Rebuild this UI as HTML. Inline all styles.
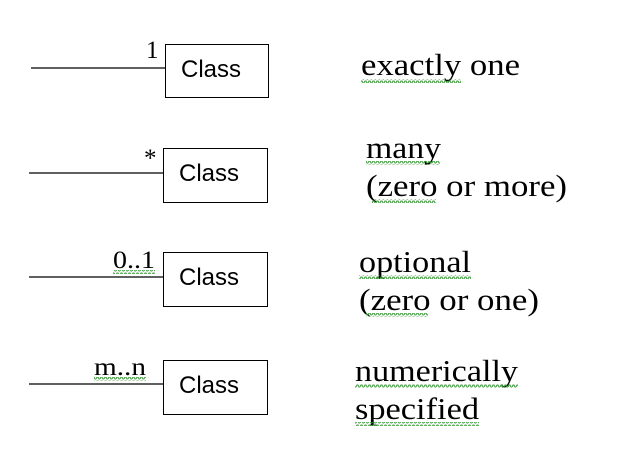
<!DOCTYPE html>
<html><head><meta charset="utf-8"><style>
html,body{margin:0;padding:0;background:#fff;width:621px;height:459px;overflow:hidden}
svg{display:block}
.cls{font-family:"Liberation Sans",sans-serif;font-size:24px;fill:#000}
.lbl{font-family:"Liberation Serif",serif;font-size:31px;fill:#000}
.m{font-family:"Liberation Serif",serif;font-size:25px;fill:#000}
.w{fill:none;stroke:#3a9a3a;stroke-width:1}
</style></head><body>
<svg width="621" height="459">
<defs><pattern id="wv" width="4" height="4" patternUnits="userSpaceOnUse"><path d="M0 3 L1 1 L2 1 L3 3 L4 3" class="w"/></pattern></defs>
<g>
<line x1="31" y1="68" x2="165" y2="68" stroke="#000" stroke-width="1.2"/>
<text x="146" y="58" class="m">1</text>
<rect x="165.5" y="44.5" width="103" height="53" fill="none" stroke="#000"/>
<text x="181" y="77" class="cls" textLength="60" lengthAdjust="spacingAndGlyphs">Class</text>
<text x="361" y="75" class="lbl" textLength="159" lengthAdjust="spacingAndGlyphs">exactly one</text>
<rect x="361" y="79" width="100" height="4" fill="url(#wv)"/>
</g>
<g>
<line x1="29" y1="173" x2="163" y2="173" stroke="#000" stroke-width="1.2"/>
<text x="144" y="166" class="m">*</text>
<rect x="163.5" y="148.5" width="104" height="54" fill="none" stroke="#000"/>
<text x="179" y="181" class="cls" textLength="60" lengthAdjust="spacingAndGlyphs">Class</text>
<text x="366" y="158" class="lbl" textLength="75" lengthAdjust="spacingAndGlyphs">many</text>
<rect x="366" y="161" width="74" height="4" fill="url(#wv)"/>
<text x="366" y="196" class="lbl" textLength="201" lengthAdjust="spacingAndGlyphs">(zero or more)</text>
<rect x="372" y="199" width="64" height="4" fill="url(#wv)"/>
</g>
<g>
<line x1="29" y1="277" x2="163" y2="277" stroke="#000" stroke-width="1.2"/>
<text x="113" y="268" class="m" textLength="42" lengthAdjust="spacingAndGlyphs">0..1</text>
<rect x="113" y="270" width="42" height="4" fill="url(#wv)"/>
<rect x="163.5" y="252.5" width="104" height="54" fill="none" stroke="#000"/>
<text x="179" y="285" class="cls" textLength="60" lengthAdjust="spacingAndGlyphs">Class</text>
<text x="359" y="272" class="lbl" textLength="112" lengthAdjust="spacingAndGlyphs">optional</text>
<rect x="359" y="275" width="112" height="4" fill="url(#wv)"/>
<text x="359" y="310" class="lbl" textLength="180" lengthAdjust="spacingAndGlyphs">(zero or one)</text>
<rect x="366" y="313" width="62" height="4" fill="url(#wv)"/>
</g>
<g>
<line x1="29" y1="384" x2="163" y2="384" stroke="#000" stroke-width="1.2"/>
<text x="94" y="375" class="m" textLength="52" lengthAdjust="spacingAndGlyphs">m..n</text>
<rect x="94" y="377" width="52" height="4" fill="url(#wv)"/>
<rect x="163.5" y="360.5" width="104" height="54" fill="none" stroke="#000"/>
<text x="179" y="393" class="cls" textLength="60" lengthAdjust="spacingAndGlyphs">Class</text>
<text x="355" y="381" class="lbl" textLength="163" lengthAdjust="spacingAndGlyphs">numerically</text>
<rect x="355" y="384" width="163" height="4" fill="url(#wv)"/>
<text x="355" y="419" class="lbl" textLength="124" lengthAdjust="spacingAndGlyphs">specified</text>
<rect x="355" y="422" width="124" height="4" fill="url(#wv)"/>
</g>
</svg>
</body></html>
